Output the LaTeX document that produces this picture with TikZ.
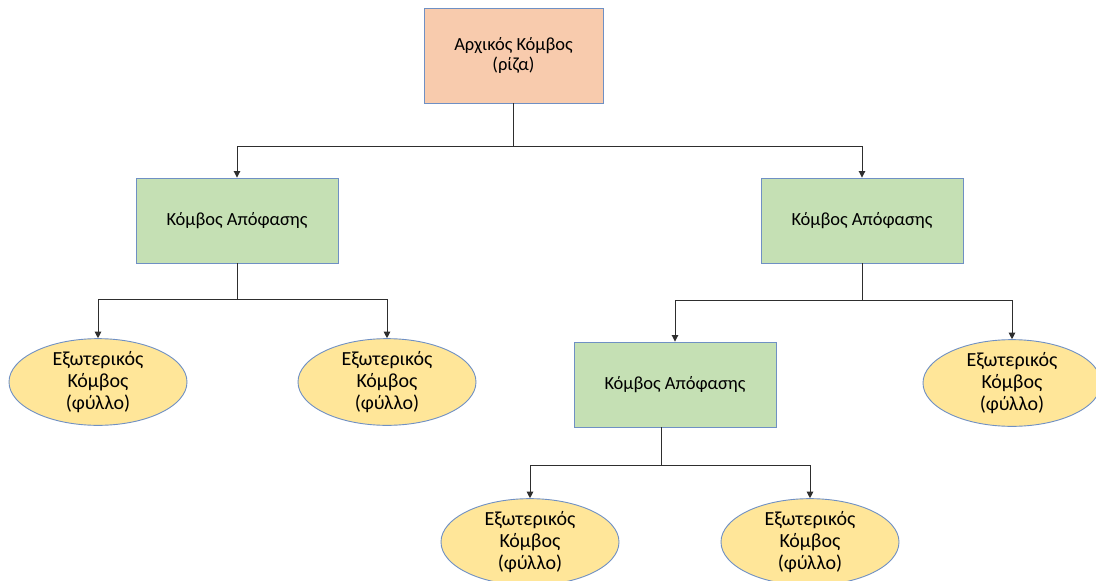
\documentclass[tikz,border=0pt]{standalone}
\usepackage{fontspec}
\setmainfont{Carlito}
\usetikzlibrary{shapes.geometric,arrows.meta}
\definecolor{rootfill}{HTML}{F8CBAD}
\definecolor{decfill}{HTML}{C5E0B4}
\definecolor{leaffill}{HTML}{FFE699}
\definecolor{edgeblue}{HTML}{6F90C4}
\definecolor{wire}{HTML}{2E2E2E}
\tikzset{
  rootbox/.style={draw=edgeblue, line width=0.9pt, fill=rootfill, rectangle,
    minimum width=179pt, minimum height=95pt, inner sep=0pt, align=center,
    font=\fontsize{18.5}{20}\selectfont},
  decbox/.style={draw=edgeblue, line width=0.9pt, fill=decfill, rectangle,
    minimum width=202pt, minimum height=85pt, inner sep=0pt, align=center,
    font=\fontsize{18.5}{21}\selectfont},
  leaf/.style={draw=edgeblue, line width=0.9pt, fill=leaffill, ellipse,
    minimum width=178pt, minimum height=80pt, inner sep=0pt, align=center,
    font=\fontsize{20}{22}\selectfont},
  wireline/.style={draw=wire, line width=0.9pt},
  arrowline/.style={wireline, -{Triangle[length=6.5pt,width=6.5pt]}},
}
\begin{document}
\begin{tikzpicture}[x=1pt,y=-1pt]
\useasboundingbox (0,0) rectangle (1096,581);
\fill[white] (0,0) rectangle (1096,581);

% nodes of the tree
\node[rootbox] (root) at (513.5,55.5) {Αρχικός Κόμβος\\(ρίζα)};
\node[decbox] (d1) at (237,220.5) {Κόμβος Απόφασης};
\node[decbox] (d2) at (862,220.5) {Κόμβος Απόφασης};
\node[decbox] (d3) at (675,384.5) {Κόμβος Απόφασης};
\node[leaf] (l1) at (98,382) {Εξωτερικός\\Κόμβος\\(φύλλο)};
\node[leaf] (l2) at (387,382) {Εξωτερικός\\Κόμβος\\(φύλλο)};
\node[leaf] (l3) at (1012,383) {Εξωτερικός\\Κόμβος\\(φύλλο)};
\node[leaf] (l4) at (530,542) {Εξωτερικός\\Κόμβος\\(φύλλο)};
\node[leaf] (l5) at (810,542) {Εξωτερικός\\Κόμβος\\(φύλλο)};

% branch points
\coordinate (b0) at (513.5,146);
\coordinate (b1) at (237,299);
\coordinate (b2) at (862,300);
\coordinate (b3) at (661,465);

% connectors
\draw[wireline] (root.south) -- (b0);
\draw[arrowline] (b0) -| (d1.north);
\draw[arrowline] (b0) -| (d2.north);

\draw[wireline] (d1.south) -- (b1);
\draw[arrowline] (b1) -| (l1.north);
\draw[arrowline] (b1) -| (l2.north);

\draw[wireline] (d2.south) -- (b2);
\draw[arrowline] (b2) -| (d3.north);
\draw[arrowline] (b2) -| (l3.north);

\draw[wireline] (b3 |- d3.south) -- (b3);
\draw[arrowline] (b3) -| (l4.north);
\draw[arrowline] (b3) -| (l5.north);
\end{tikzpicture}
\end{document}
